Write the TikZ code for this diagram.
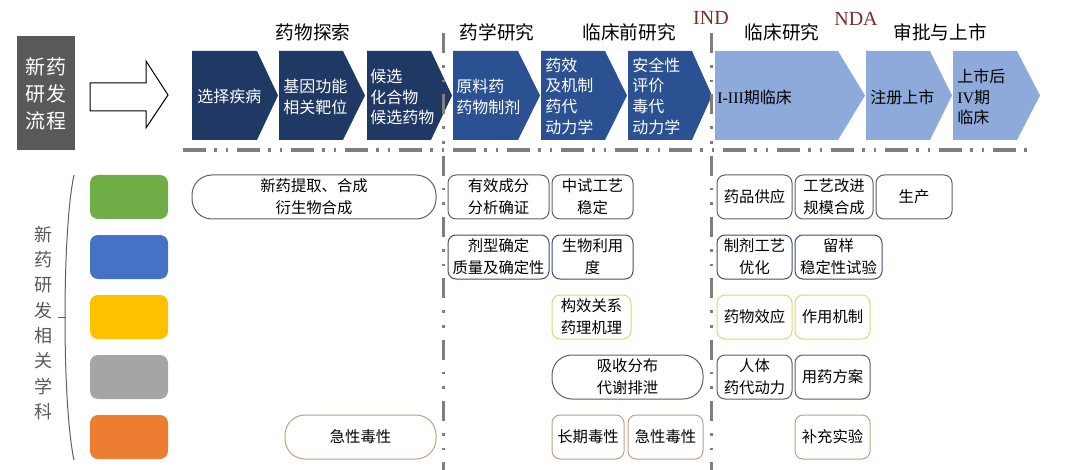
\documentclass[tikz,border=0pt]{standalone}
\usepackage{fontspec}
\setmainfont{Noto Sans CJK SC}
\newfontfamily\lat{Liberation Serif}
\definecolor{navy}{HTML}{203864}
\definecolor{midblue}{HTML}{2C5192}
\definecolor{lightblue}{HTML}{8EAADB}
\definecolor{dgray}{HTML}{595959}
\definecolor{dashgray}{HTML}{7F7F7F}
\definecolor{indred}{HTML}{7B2C2C}
\definecolor{cgreen}{HTML}{70AD47}
\definecolor{cblue}{HTML}{4472C4}
\definecolor{cyellow}{HTML}{FFC000}
\definecolor{cgray}{HTML}{A5A5A5}
\definecolor{corange}{HTML}{ED7D31}
\definecolor{bgray}{HTML}{606060}
\definecolor{bnavy}{HTML}{3F4E6E}
\definecolor{byellow}{HTML}{E3D37A}
\definecolor{btan}{HTML}{C0A080}
\begin{document}
\begin{tikzpicture}[x=0.75pt,y=-0.75pt,
  chevtext/.style={anchor=west,align=left,text=white,inner sep=0pt,font=\fontsize{12}{15.5}\selectfont},
  head/.style={inner sep=0pt,font=\fontsize{14}{16}\selectfont},
  milestone/.style={inner sep=0pt,text=indred,font=\lat\fontsize{15}{16}\selectfont},
  rowbox/.style={draw=#1,line width=0.75pt,rounded corners=6pt,fill=white,minimum height=33pt,inner sep=0pt,align=center,font=\fontsize{11.5}{16.5}\selectfont},
  widebox/.style={rowbox=#1,rounded corners=15pt},
  swatch/.style={fill=#1,rounded corners=6pt},
  hdash/.style={dashgray,line width=3pt,dash pattern=on 17pt off 6.5pt on 2pt off 6.5pt on 2pt off 6.5pt},
  vdash/.style={dashgray,line width=2.25pt,dash pattern=on 15pt off 9pt on 2pt off 9pt on 2pt off 9pt}]
\useasboundingbox (0,0) rectangle (1080,470);
% left title box
\fill[dgray] (17,36) rectangle (75,150);
\node[text=white,align=center,inner sep=0pt,font=\fontsize{15}{20}\selectfont] (title) at (46,94) {新药\\研发\\流程};
% hollow arrow
\draw[line width=0.75pt,fill=white] (90,83) -- (146,83) -- (146,61) -- (168,95) -- (146,128) -- (146,111) -- (90,111) -- cycle;
% chevrons
\fill[navy] (192,51) -- (257,51) -- (278,95.5) -- (257,140) -- (192,140) -- cycle;
\fill[navy] (279,51) -- (343,51) -- (365,95.5) -- (343,140) -- (279,140) -- cycle;
\fill[navy] (367,51) -- (431,51) -- (452,95.5) -- (431,140) -- (367,140) -- cycle;
\fill[midblue] (453,51) -- (518,51) -- (540,95.5) -- (518,140) -- (453,140) -- cycle;
\fill[midblue] (541,51) -- (605,51) -- (627,95.5) -- (605,140) -- (541,140) -- cycle;
\fill[midblue] (628,51) -- (692,51) -- (712,95.5) -- (692,140) -- (628,140) -- cycle;
\fill[lightblue] (715,51) -- (838,51) -- (865,95.5) -- (838,140) -- (715,140) -- cycle;
\fill[lightblue] (866,51) -- (930,51) -- (952,95.5) -- (930,140) -- (866,140) -- cycle;
\fill[lightblue] (953,51) -- (1017,51) -- (1040,95.5) -- (1017,140) -- (953,140) -- cycle;
\node[chevtext] (c1) at (197,96) {选择疾病};
\node[chevtext] (c2) at (283,97) {基因功能\\相关靶位};
\node[chevtext] (c3) at (370,97) {候选\\化合物\\候选药物};
\node[chevtext] (c4) at (456,97) {原料药\\药物制剂};
\node[chevtext] (c5) at (545,96) {药效\\及机制\\药代\\动力学};
\node[chevtext] (c6) at (632,96) {安全性\\评价\\毒代\\动力学};
\node[chevtext,text=black] (c7) at (717,97) {{\lat I-III}期临床};
\node[chevtext,text=black] (c8) at (870,97) {注册上市};
\node[chevtext,text=black] (c9) at (957,97) {上市后\\{\lat IV}期\\临床};
% headings
\node[head] (h1) at (313,32) {药物探索};
\node[head] (h2) at (497,32) {药学研究};
\node[head] (h3) at (629,32) {临床前研究};
\node[head] (h4) at (782,32) {临床研究};
\node[head] (h5) at (940,32) {审批与上市};
\node[milestone] (ind) at (711,18) {IND};
\node[milestone] (nda) at (856,19) {NDA};
% dash-dot lines
\draw[hdash] (183,150) -- (1028,150);
\draw[vdash] (443,33) -- (443,470);
\draw[vdash] (711,33) -- (711,470);
% vertical label and brace
\node[text=dgray,align=center,inner sep=0pt,font=\fontsize{13.5}{19}\selectfont] (subj) at (43,323) {新\\药\\研\\发\\相\\关\\学\\科};
\draw[bgray,line width=0.75pt] (74,175) .. controls (62,230) and (62,405) .. (74,460);
\draw[bgray,line width=0.75pt] (58,317) -- (65.5,317);
% swatches
\fill[swatch=cgreen] (90,175) rectangle (168,219);
\fill[swatch=cblue] (90,235) rectangle (168,279);
\fill[swatch=cyellow] (90,295) rectangle (168,339);
\fill[swatch=cgray] (90,355) rectangle (168,399);
\fill[swatch=corange] (90,415) rectangle (168,459);
% row 1
\node[widebox=bgray,minimum width=183pt] (b11) at (314,197) {新药提取、合成\\衍生物合成};
\node[rowbox=bgray,minimum width=75.75pt] (b12) at (498.5,197) {有效成分\\分析确证};
\node[rowbox=bgray,minimum width=60.75pt] (b13) at (592.5,197) {中试工艺\\稳定};
\node[rowbox=bgray,minimum width=56.25pt] (b14) at (754.5,197) {药品供应};
\node[rowbox=bgray,minimum width=58.5pt] (b15) at (834,197) {工艺改进\\规模合成};
\node[rowbox=bgray,minimum width=57pt] (b16) at (914,197) {生产};
% row 2
\node[rowbox=bnavy,minimum width=75.75pt] (b21) at (498.5,257) {剂型确定\\质量及确定性};
\node[rowbox=bnavy,minimum width=60.75pt] (b22) at (592.5,257) {生物利用\\度};
\node[rowbox=bnavy,minimum width=56.25pt] (b23) at (754.5,257) {制剂工艺\\优化};
\node[rowbox=bnavy,minimum width=65.25pt] (b24) at (838.5,257) {留样\\稳定性试验};
% row 3
\node[rowbox=byellow,minimum width=59.25pt] (b31) at (591.5,317) {构效关系\\药理机理};
\node[rowbox=byellow,minimum width=56.25pt] (b32) at (754.5,317) {药物效应};
\node[rowbox=byellow,minimum width=56.25pt] (b33) at (832.5,317) {作用机制};
% row 4
\node[widebox=bgray,minimum width=113.25pt] (b41) at (627.5,377) {吸收分布\\代谢排泄};
\node[rowbox=bgray,minimum width=56.25pt] (b42) at (754.5,377) {人体\\药代动力};
\node[rowbox=bgray,minimum width=56.25pt] (b43) at (832.5,377) {用药方案};
% row 5
\node[widebox=btan,minimum width=113.25pt] (b51) at (360.5,437) {急性毒性};
\node[rowbox=btan,minimum width=54pt] (b52) at (588,437) {长期毒性};
\node[rowbox=btan,minimum width=56.25pt] (b53) at (665.5,437) {急性毒性};
\node[rowbox=btan,minimum width=56.25pt] (b54) at (832.5,437) {补充实验};
\end{tikzpicture}
\end{document}
